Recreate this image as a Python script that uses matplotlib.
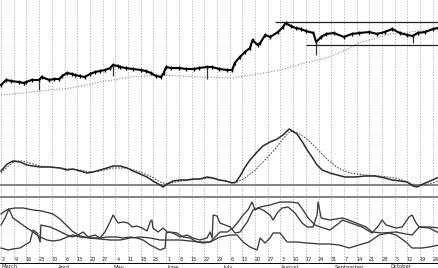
import numpy as np
import matplotlib
matplotlib.use('Agg')
import matplotlib.pyplot as plt

# x axis = trading day index starting Monday March 2
week_labels = ['2', '9', '16', '23', '30', '6', '13', '20', '27', '4', '11', '18', '25',
               '1', '8', '15', '22', '29', '6', '13', '20', '27', '3', '10', '17', '24',
               '31', '7', '14', '21', '28', '5', '12', '19', '26']
month_names = ['March', 'April', 'May', 'June', 'July', 'August', 'September', 'October']
month_start = [0, 22, 44, 65, 87, 110, 131, 153]

# price panel
price_day = [0, 2, 4, 7, 9, 10, 12, 15, 16, 19, 21, 23, 24, 26, 28, 29, 31, 33, 35, 37,
             39, 41, 43, 44, 46, 47, 49, 52, 55, 57, 59, 61, 63, 64, 65, 67, 70, 73, 76, 78,
             81, 83, 86, 89, 91, 92, 94, 96, 98, 99, 101, 102, 104, 106, 109, 111, 112, 114, 116, 118,
             120, 123, 124, 126, 128, 131, 135, 138, 141, 145, 148, 151, 154, 157, 160, 162, 164, 167, 170, 172]
price_close = [65, 70, 69, 68, 67, 68, 70, 70, 73, 70, 71, 71, 74, 77, 76, 75, 74, 73, 76, 78,
               79, 80, 82, 85, 84, 83, 82, 81, 80, 79, 77, 74, 73, 77, 83, 82, 82, 81, 81, 82,
               83, 83, 81, 80, 80, 87, 93, 98, 102, 110, 105, 107, 115, 113, 118, 123, 127, 124, 122, 121,
               119, 117, 108, 113, 116, 117, 113, 116, 117, 118, 116, 118, 121, 117, 115, 114, 117, 118, 121, 122]
spike_day = [15, 44, 81, 124, 162]
spike_low = [60, 74, 71, 95, 107]
ma_day = [0, 9, 19, 28, 39, 51, 63, 78, 91, 99, 110, 118, 128, 133, 141, 148, 153, 161, 172]
ma_val = [55, 57, 60, 62, 68, 73, 75, 73, 72, 75, 80, 86, 92, 97, 107, 112, 116, 118, 121]
resist_start, resist_level = 108, 128
support_start, support_level = 120, 105

# oscillator panel
osc_day = [0, 2.4, 4.7, 7.5, 10.2, 12.6, 15.4, 19.3, 23.2, 26, 28.3, 31.1, 33.9, 36.2, 39, 41.7,
           44.1, 46.9, 49.6, 52, 54.7, 57.5, 59.8, 62.6, 63.8, 65.4, 67.7, 70.5, 73.2, 75.6, 78.3,
           81.1, 83.5, 85.8, 88.6, 90.9, 92.5, 94.1, 96.1, 98, 100.8, 103.1, 105.9, 108.7, 111,
           113.4, 116.5, 118.9, 120.5, 122.4, 124.4, 126.4, 129.5, 132.3, 135.4, 139.4, 143.3,
           147.2, 151.2, 153.9, 157.1, 159.8, 162.2, 163.8, 166.1, 168.9, 172.4]
osc_val = [1.4, 2.1, 2.4, 2.3, 2.0, 1.9, 1.8, 1.8, 1.7, 1.5, 1.6, 1.4, 1.2, 1.3, 1.5, 1.7,
           1.9, 1.9, 1.7, 1.4, 1.1, 0.8, 0.4, 0.0, -0.2, 0.1, 0.4, 0.5, 0.5, 0.6, 0.6,
           0.8, 0.7, 0.5, 0.4, 0.2, 0.3, 0.9, 1.8, 2.5, 3.3, 3.9, 4.3, 4.6, 5.0,
           5.6, 5.1, 4.2, 3.5, 2.8, 2.0, 1.5, 1.2, 1.0, 0.8, 0.8, 0.9,
           0.9, 0.7, 0.5, 0.4, 0.3, -0.1, -0.2, 0.1, 0.4, 0.8]
sig_day = [0, 2.4, 5.5, 8.3, 11.4, 15.4, 23.2, 31.1, 35, 39, 44.1, 49.6, 54.7, 58.7, 62.6,
           65.4, 68.5, 74.4, 82.3, 88.2, 92.1, 96.1, 100, 103.9, 107.9, 111, 113.8, 116.9,
           120.9, 124.8, 128.7, 132.7, 137.4, 143.3, 149.2, 155.1, 159.1, 163, 166.9, 172.4]
sig_val = [1.2, 1.8, 2.4, 2.4, 2.2, 1.9, 1.7, 1.5, 1.3, 1.4, 1.7, 1.7, 1.3, 0.9, 0.3,
           0.1, 0.3, 0.5, 0.7, 0.4, 0.2, 0.7, 1.5, 2.5, 3.6, 4.6, 5.4, 5.2,
           4.5, 3.5, 2.5, 1.7, 1.2, 1.0, 0.9, 0.7, 0.4, 0.0, 0.0, 0.4]

# directional movement panel
dmi_a_day = [0, 1.6, 3.1, 4.7, 7.5, 10.2, 12.6, 15.4, 18.1, 20.5, 23.2, 26, 28.3, 31.1, 35, 39,
             40.9, 42.9, 44.1, 46.1, 48, 50, 51.6, 53.5, 55.5, 57.5, 58.7, 59.4, 59.8, 61.8, 63.8,
             65.4, 67.7, 70.5, 73.2, 75.6, 78.3, 81.1, 82.3, 83.1, 83.5, 85, 86.2, 90.2, 92.1, 94.1,
             96.9, 99.2, 102, 105.9, 109.8, 113.8, 116.9, 118.9, 120.9, 123.6, 126.8, 129.5, 133.1,
             134.3, 142.1, 146.1, 148.8, 150, 151.6, 155.5, 157.9, 160.6, 161.8, 163.4, 164.6, 168.5, 172.4]
dmi_a_val = [32, 39, 48, 39, 34, 29, 25, 20, 17, 16, 17, 20, 22, 20, 19, 19,
             25, 35, 42, 34, 35, 34, 30, 31, 29, 26, 35, 37, 29, 25, 29,
             25, 24, 20, 22, 19, 17, 19, 25, 19, 42, 41, 34, 30, 24, 25,
             35, 47, 50, 52, 55, 55, 54, 47, 39, 32, 29, 27, 34,
             37, 30, 24, 32, 37, 32, 29, 30, 40, 42, 34, 30, 30, 29]
dmi_b_day = [0, 1.6, 3.1, 5.5, 8.7, 12.6, 16.1, 20.5, 23.2, 26, 28, 31.1, 35, 39, 42.9, 46.9,
             50.8, 54.7, 58.7, 62.6, 66.5, 70.5, 74.4, 78.3, 82.3, 86.2, 90.2, 92.9, 95.3, 98,
             100.8, 102, 103.9, 105.9, 107.1, 109.8, 112.6, 116.5, 120.5, 125.6, 129.5, 133.1,
             137, 140.9, 144.9, 148.8, 152.8, 155.5, 159.4, 161.8, 165.7, 168.5, 172.4]
dmi_b_val = [43, 46, 48, 49, 49, 47, 46, 43, 38, 31, 26, 21, 19, 18, 17, 17,
             19, 20, 19, 17, 17, 17, 16, 15, 15, 20, 22, 22, 15, 10,
             7, 19, 14, 19, 24, 24, 15, 15, 14, 13, 13, 12,
             9, 12, 15, 22, 24, 22, 15, 9, 9, 10, 12]
dmi_c_day = [0, 2.8, 4.7, 7.5, 9.4, 11.4, 12.6, 14.2, 15.4, 15.7, 19.3, 22, 26, 28, 30.3, 32.3,
             34.3, 37, 39, 41.7, 45.7, 48, 50.8, 53.5, 55.9, 58.7, 62.6, 64.6, 65, 66.5, 69.3,
             71.7, 74.4, 77.2, 79.5, 82.3, 86.2, 89, 91.3, 93.3, 95.3, 97.2, 98.8, 100, 101.2,
             103.1, 105.9, 107.1, 108.7, 110.6, 113, 115.7, 118.5, 120.5, 122.8, 124.4, 124.8,
             126, 129.5, 134.3, 135.8, 139.8, 143.7, 146.1, 150, 155.5, 159.4, 161.8, 164.6, 168.5, 172.4]
dmi_c_val = [9, 7, 8, 9, 12, 15, 27, 24, 15, 32, 30, 27, 22, 20, 22, 25,
             20, 22, 19, 20, 20, 19, 20, 19, 17, 12, 7, 9, 24, 25, 24,
             20, 19, 15, 14, 15, 25, 25, 29, 35, 42, 47, 55, 47, 49,
             47, 42, 37, 44, 49, 50, 44, 34, 30, 30, 42, 55,
             39, 37, 39, 38, 34, 30, 25, 24, 25, 23, 22, 30, 29, 24]

W, H = 439, 268
XMIN, XMAX = -0.4, 172.4

fig = plt.figure(figsize=(W / 100, H / 100), dpi=100)
fig.patch.set_facecolor('white')


def panel(top, bottom):
    ax = fig.add_axes([0, 1 - bottom / H, 1, (bottom - top) / H])
    ax.set_xlim(XMIN, XMAX)
    ax.set_facecolor('none')
    ax.axis('off')
    return ax


# background: weekly grid, date axis
bg = fig.add_axes([0, 0, 1, 1])
bg.set_xlim(XMIN, XMAX)
bg.set_ylim(H, 0)
bg.axis('off')
grid_days = np.arange(len(week_labels)) * 5
bg.vlines(grid_days, 0, 262, colors='#a8a8a8', lw=0.6, linestyles=(0, (1.5, 1.8)))
for d, lab in zip(grid_days, week_labels):
    bg.text(d + 1.0, 259.5, lab, fontsize=3.6, ha='center', va='center', color='#222222')
bg.axhline(262.8, color='black', lw=0.7)
for d, name in zip(month_start, month_names):
    bg.text(d + 0.3, 267.0, name, fontsize=3.8, ha='left', va='center', color='#222222')

# price
ax1 = panel(0, 110)
ax1.set_ylim(40, 150)
close = np.array(price_close, dtype=float)
ax1.plot(ma_day, ma_val, color='#8a8a8a', lw=0.8, ls=(0, (1, 1.5)))
ax1.plot(price_day, close, color='black', lw=1.5)
ax1.vlines(price_day, close - 1.6, close + 1.6, colors='black', lw=1.0)
spike_top = np.interp(spike_day, price_day, close)
ax1.vlines(spike_day, spike_low, spike_top, colors='#333333', lw=0.9)
ax1.hlines(resist_level, resist_start, XMAX, colors='#222222', lw=0.9)
ax1.hlines(support_level, support_start, XMAX, colors='#222222', lw=0.9)

# oscillator
ax2 = panel(110, 197)
ax2.set_ylim(-1.2, 7.5)
ax2.axhline(0, color='#7a7a7a', lw=1.3)
ax2.plot(sig_day, sig_val, color='#555555', lw=0.8, ls=(0, (1.5, 1.2)))
ax2.plot(osc_day, osc_val, color='#2a2a2a', lw=1.1)

# directional movement
ax3 = panel(197, 257)
ax3.set_ylim(0, 60)
ax3.axhline(60, color='#7a7a7a', lw=1.3, clip_on=False)
for dd, vv in [(dmi_a_day, dmi_a_val), (dmi_b_day, dmi_b_val), (dmi_c_day, dmi_c_val)]:
    ax3.plot(dd, vv, color='#3a3a3a', lw=0.95)

fig.savefig('out.png', dpi=100)
